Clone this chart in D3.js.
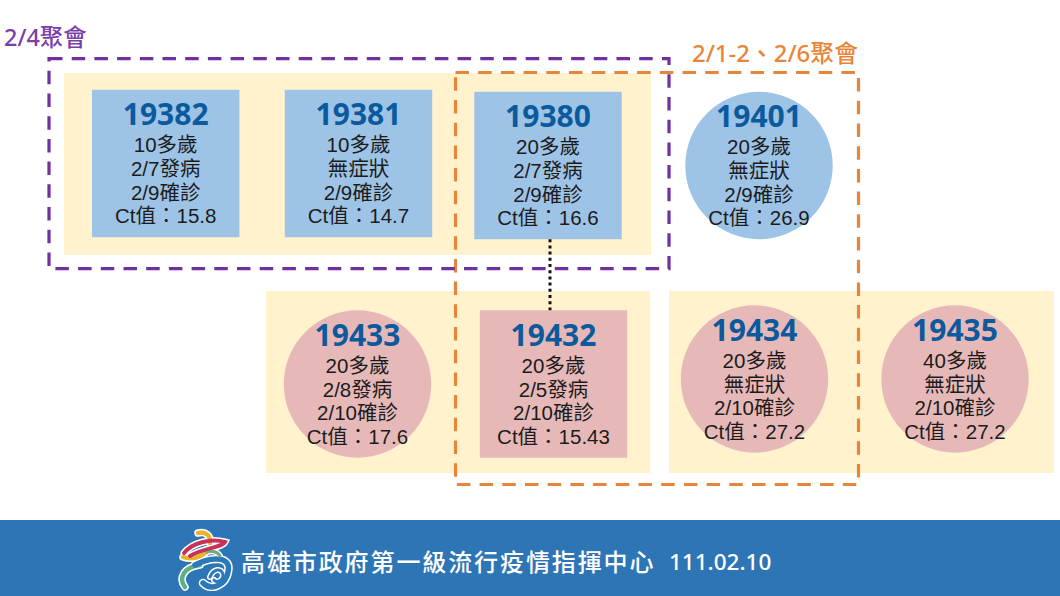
<!DOCTYPE html>
<html>
<head>
<meta charset="utf-8">
<script src="https://cdn.jsdelivr.net/npm/d3@7"></script>
<style>
  html, body { margin: 0; padding: 0; background: #fff; overflow: hidden; }
  svg { display: block; }
  .num { font-family: "Noto Sans", sans-serif; font-weight: 700; font-size: 30px; fill: #0b5a9e; text-anchor: middle; }
  .line { font-family: "Liberation Sans", "Noto Sans CJK TC", sans-serif; font-size: 20.5px; fill: #1c1c1c; text-anchor: middle; }
  .tag { font-family: "Noto Sans", "Noto Sans CJK TC", sans-serif; font-size: 23.4px; font-weight: 500; }
</style>
</head>
<body>
<svg id="chart" width="1060" height="596"></svg>
<script>
// case data
var caseIds = ["19382", "19381", "19380", "19401", "19433", "19432", "19434", "19435"];
var ages = ["10多歲", "10多歲", "20多歲", "20多歲", "20多歲", "20多歲", "20多歲", "40多歲"];
var onsets = ["2/7發病", "無症狀", "2/7發病", "無症狀", "2/8發病", "2/5發病", "無症狀", "無症狀"];
var confirmed = ["2/9確診", "2/9確診", "2/9確診", "2/9確診", "2/10確診", "2/10確診", "2/10確診", "2/10確診"];
var ctValues = ["15.8", "14.7", "16.6", "26.9", "17.6", "15.43", "27.2", "27.2"];
var shapes = ["square", "square", "square", "circle", "circle", "square", "circle", "circle"];
var groups = ["a", "a", "a", "a", "b", "b", "b", "b"];
var linked = ["19380", "19432"];
var purpleLabel = "2/4聚會";
var orangeLabel = "2/1-2、2/6聚會";
var footerTitle = "高雄市政府第一級流行疫情指揮中心";
var footerDate = "111.02.10";

// layout, all in pixels of the 1060x596 page
var xPos = d3.scaleOrdinal().domain(caseIds).range([165.7, 358.5, 548, 759, 357.5, 553.5, 754.5, 955]);
var yPos = d3.scaleOrdinal().domain(caseIds).range([163.5, 163.5, 165.5, 165.5, 384, 384, 379, 379]);
var fill = d3.scaleOrdinal().domain(["a", "b"]).range(["#9dc3e6", "#e6b9b8"]);
var half = 73.7;

var svg = d3.select("#chart");

// panels behind the cases
var panels = [[64, 73, 587, 182], [266, 291, 384, 182], [669, 291, 385, 182]];
svg.selectAll("rect.panel").data(panels).join("rect")
  .attr("class", "panel")
  .attr("x", d => d[0]).attr("y", d => d[1])
  .attr("width", d => d[2]).attr("height", d => d[3])
  .attr("fill", "#fff2cc");

var cases = caseIds.map((id, i) => ({
  id: id, age: ages[i], onset: onsets[i], conf: confirmed[i], ct: ctValues[i], shape: shapes[i], group: groups[i]
}));

var node = svg.selectAll("g.case").data(cases).join("g")
  .attr("class", "case")
  .attr("transform", d => `translate(${xPos(d.id)},${yPos(d.id)})`);

node.filter(d => d.shape == "square").append("rect")
  .attr("x", -half).attr("y", -half)
  .attr("width", half * 2).attr("height", half * 2)
  .attr("fill", d => fill(d.group));
node.filter(d => d.shape == "circle").append("circle")
  .attr("r", half)
  .attr("fill", d => fill(d.group));

node.append("text").attr("class", "num").attr("y", -38.5).text(d => d.id);
node.append("text").attr("class", "line").attr("y", -11.5).text(d => d.age);
node.append("text").attr("class", "line").attr("y", 12.5).text(d => d.onset);
node.append("text").attr("class", "line").attr("y", 36).text(d => d.conf);
node.append("text").attr("class", "line").attr("y", 59.5).text(d => "Ct值：" + d.ct);

// dashed group frames
svg.append("rect")
  .attr("x", 455.5).attr("y", 72.5).attr("width", 403).attr("height", 412)
  .attr("fill", "none").attr("stroke", "#e8853a").attr("stroke-width", 3.2)
  .attr("stroke-dasharray", "13.5 9.2");
svg.append("rect")
  .attr("x", 49).attr("y", 58.7).attr("width", 620).attr("height", 210)
  .attr("fill", "none").attr("stroke", "#7030a0").attr("stroke-width", 3.2)
  .attr("stroke-dasharray", "13.5 9.2");

// dotted link between the two cases
svg.append("line")
  .attr("x1", 550).attr("x2", 550)
  .attr("y1", yPos(linked[0]) + half).attr("y2", yPos(linked[1]) - half)
  .attr("stroke", "#111").attr("stroke-width", 3)
  .attr("stroke-dasharray", "3 3.2");

svg.append("text").attr("class", "tag").attr("x", 4).attr("y", 45.5)
  .attr("fill", "#7a3fa8").text(purpleLabel);
svg.append("text").attr("class", "tag").attr("x", 692).attr("y", 61.5)
  .attr("fill", "#e8853a").style("font-size", "23.9px").text(orangeLabel);

// footer band
svg.append("rect").attr("x", 0).attr("y", 520).attr("width", 1060).attr("height", 76).attr("fill", "#2e75b6");

svg.append("text").attr("x", 241).attr("y", 571)
  .attr("fill", "#fff")
  .style("font-family", '"Noto Sans CJK TC", sans-serif')
  .style("font-size", "24px").style("font-weight", "500").style("letter-spacing", "1.9px")
  .text(footerTitle);
svg.append("text").attr("x", 669).attr("y", 570)
  .attr("fill", "#fff")
  .style("font-family", '"Noto Sans", sans-serif')
  .style("font-size", "22.5px").style("font-weight", "500")
  .text(footerDate);

// logo, brush strokes with a white edge
var logo = svg.append("g").attr("fill", "none").attr("stroke-linecap", "round");
var strokes = [
  ["M198 533 C206 531 211 536 210 543", "#e9b32c", 4.5],
  ["M185 587 C178 578 184 567 200 565", "#5fae8a", 4.5],
  ["M195 565 C212 556 232 556 228 572 C226 584 212 592 203 583", "#2a79bd", 5.5],
  ["M210 577 C213 569 222 567 223 575 C223 581 216 583 214 580", "#2a79bd", 3],
  ["M183 557 C191 560 201 558 208 550", "#e9b32c", 4.5],
  ["M207 552 C212 550 218 552 220 556", "#6fae7a", 3],
  ["M184 553 C192 543 210 538 225 542 C222 548 205 547 190 556", "#c8325a", 4]
];
logo.selectAll("path.edge").data(strokes).join("path").attr("class", "edge")
  .attr("d", d => d[0]).attr("stroke", "#fff").attr("stroke-width", d => d[2] + 3);
logo.selectAll("path.ink").data(strokes).join("path").attr("class", "ink")
  .attr("d", d => d[0]).attr("stroke", d => d[1]).attr("stroke-width", d => d[2]);
</script>
</body>
</html>
